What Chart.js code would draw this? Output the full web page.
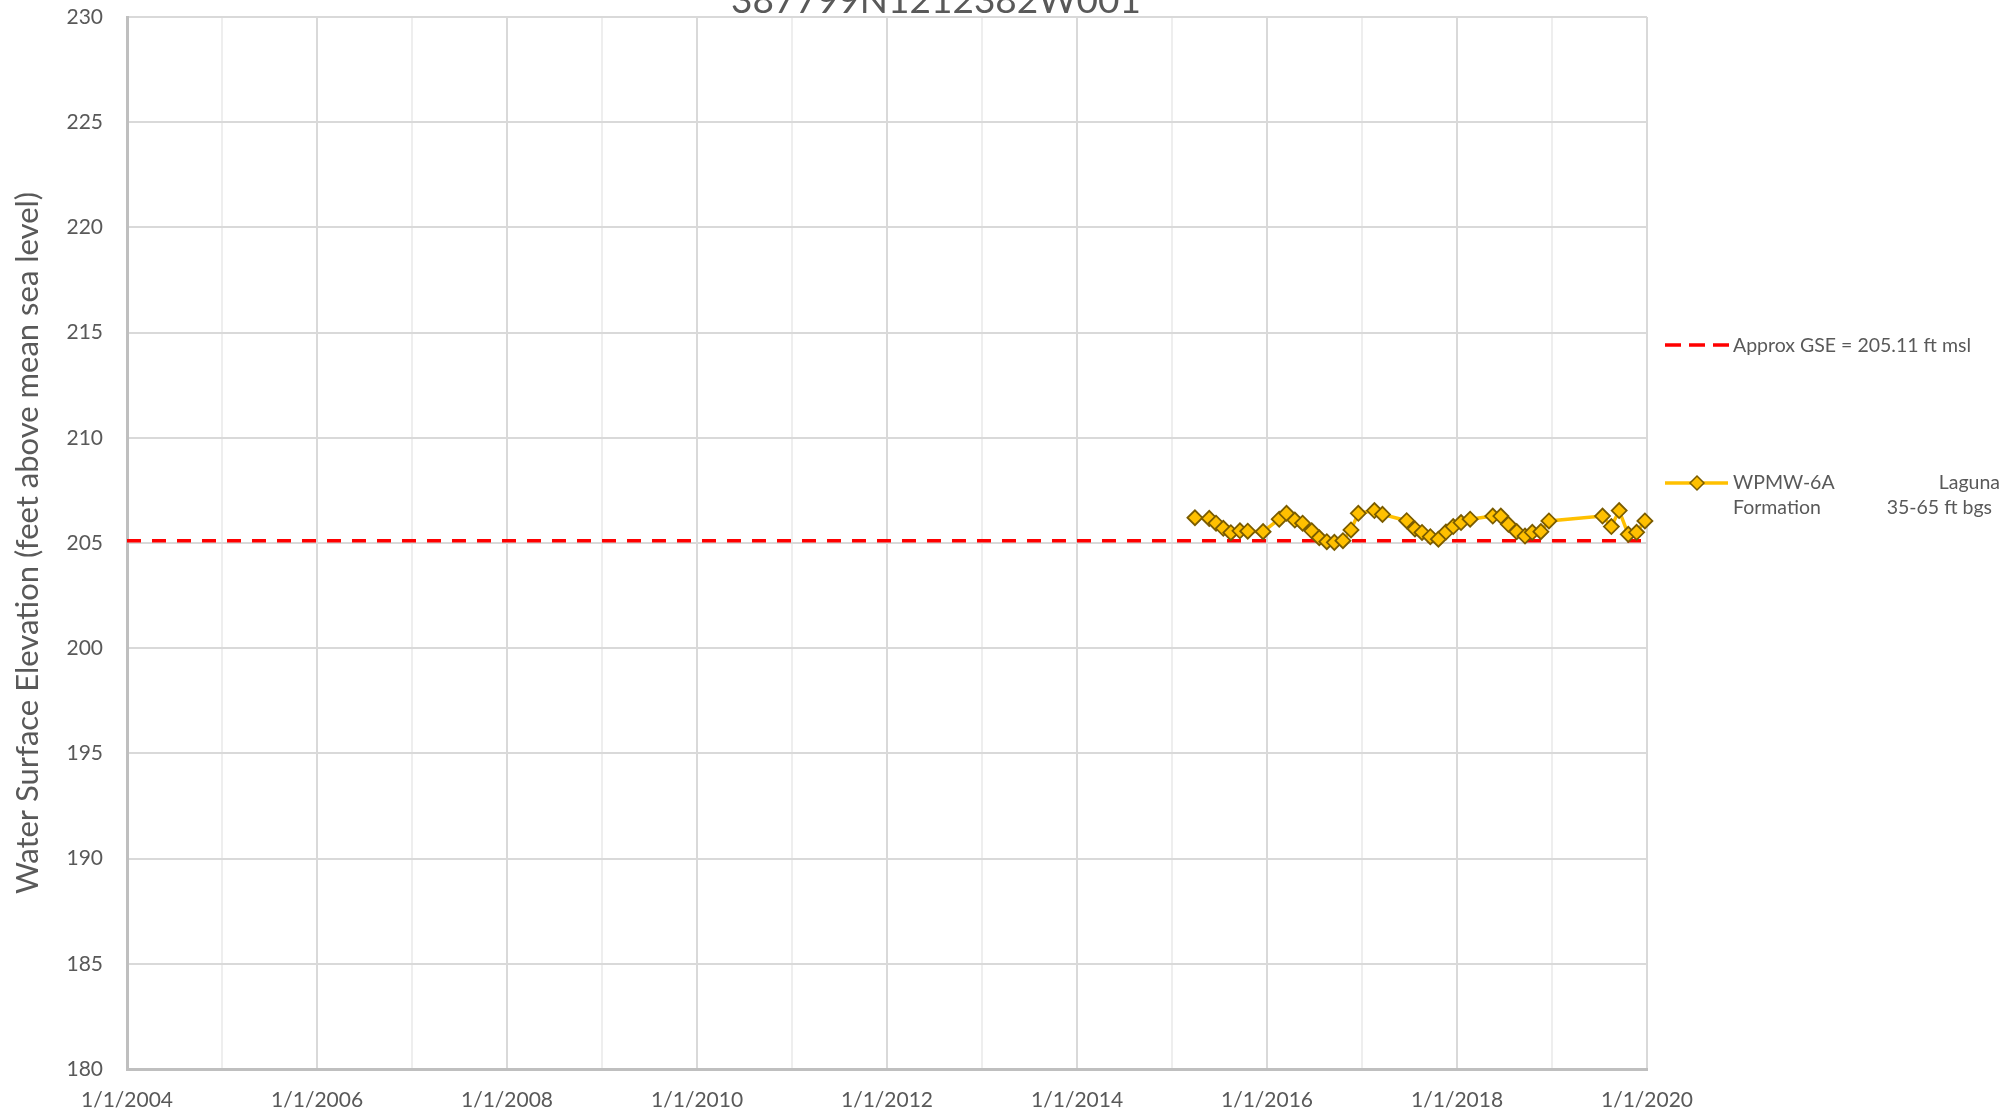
<!DOCTYPE html>
<html>
<head>
<meta charset="utf-8">
<title>387799N1212382W001</title>
<script src="https://cdn.jsdelivr.net/npm/chart.js@4.4.1/dist/chart.umd.min.js"></script>
<style>
  body { margin: 0; background: #ffffff; }
  #wrap { width: 2007px; height: 1118px; }
</style>
</head>
<body>
<div id="wrap"><canvas id="container" width="2007" height="1118"></canvas></div>
<script>
// Chart data
var chartTitle = "387799N1212382W001";
var yAxisTitle = "Water Surface Elevation (feet above mean sea level)";
var sampleDates = [
  "2015-03-30","2015-05-24","2015-06-19","2015-07-17","2015-08-15","2015-09-19","2015-10-19","2015-12-17",
  "2016-02-17","2016-03-16","2016-04-17","2016-05-17","2016-06-21","2016-07-20","2016-08-18","2016-09-16",
  "2016-10-19","2016-11-19","2016-12-17","2017-02-17","2017-03-20","2017-06-21","2017-07-23","2017-08-19",
  "2017-09-20","2017-10-21","2017-11-19","2017-12-17","2018-01-16","2018-02-20","2018-05-18","2018-06-18",
  "2018-07-17","2018-08-18","2018-09-19","2018-10-17","2018-11-19","2018-12-20","2019-07-14","2019-08-17",
  "2019-09-16","2019-10-21","2019-11-22","2019-12-24"
];
var waterLevels = [
  206.20,206.17,205.94,205.70,205.49,205.58,205.56,205.54,
  206.13,206.41,206.09,205.94,205.58,205.25,205.06,205.03,
  205.11,205.62,206.41,206.54,206.36,206.06,205.67,205.50,
  205.30,205.18,205.52,205.78,205.97,206.13,206.28,206.28,
  205.89,205.54,205.33,205.51,205.54,206.05,206.28,205.78,
  206.54,205.41,205.51,206.05
];
var gseDates = ["2004-01-01", "2020-01-01"];
var gseLevels = [205.11, 205.11];
var gseLabel = "Approx GSE = 205.11 ft msl";
var wellLabel = "WPMW-6A Laguna Formation 35-65 ft bgs";
var wellLegendLines = [["WPMW-6A", "Laguna"], ["Formation", "35-65 ft bgs"]];
var tickYears = [2004,2005,2006,2007,2008,2009,2010,2011,2012,2013,2014,2015,2016,2017,2018,2019,2020];
var xTickLabels = ["1/1/2004","1/1/2006","1/1/2008","1/1/2010","1/1/2012","1/1/2014","1/1/2016","1/1/2018","1/1/2020"];
var yMin = 180, yMax = 230, yStep = 5;

// Build points function
function toPoints(dates, values)
{
    var pts = [];
    for(var i=0;i<dates.length;i++)
    {
        pts.push({ x: Date.parse(dates[i]), y: values[i] });
    }
    return pts;
}

function yearOf(v)
{
    return new Date(v).getUTCFullYear();
}

// Title drawn near the top edge (half cut off like the source)
var topTitle = {
    id: 'topTitle',
    afterDraw: function(chart)
    {
        var c = chart.ctx;
        c.save();
        c.font = '37px Lato';
        c.fillStyle = '#595959';
        c.textAlign = 'center';
        c.textBaseline = 'alphabetic';
        c.fillText(chartTitle, 936, 13);
        c.restore();
    }
};

// Legend at the right side
var sideLegend = {
    id: 'sideLegend',
    afterDraw: function(chart)
    {
        var c = chart.ctx;
        var ds0 = chart.data.datasets[0];
        var ds1 = chart.data.datasets[1];
        c.save();
        c.font = '19.5px Lato';
        c.fillStyle = '#595959';
        c.textBaseline = 'middle';

        // gse entry
        c.strokeStyle = ds1.borderColor;
        c.lineWidth = 3.5;
        c.setLineDash([16, 8]);
        c.beginPath();
        c.moveTo(1665, 345);
        c.lineTo(1729, 345);
        c.stroke();
        c.setLineDash([]);
        c.textAlign = 'left';
        c.fillText(ds1.label, 1733, 346);

        // well entry
        c.strokeStyle = ds0.borderColor;
        c.lineWidth = 3.5;
        c.beginPath();
        c.moveTo(1665, 483);
        c.lineTo(1728, 483);
        c.stroke();
        c.fillStyle = ds0.pointBackgroundColor;
        c.strokeStyle = ds0.pointBorderColor;
        c.lineWidth = 1.5;
        c.beginPath();
        c.moveTo(1697, 476);
        c.lineTo(1704, 483);
        c.lineTo(1697, 490);
        c.lineTo(1690, 483);
        c.closePath();
        c.fill();
        c.stroke();

        c.fillStyle = '#595959';
        var rightEdges = [2000, 1992];
        for(var i=0;i<wellLegendLines.length;i++)
        {
            var y = 483 + i*25;
            c.textAlign = 'left';
            c.fillText(wellLegendLines[i][0], 1733, y);
            c.textAlign = 'right';
            c.fillText(wellLegendLines[i][1], rightEdges[i], y);
        }
        c.restore();
    }
};

var container = document.getElementById("container").getContext("2d");
var mychart = new Chart(container, {
    type: 'line',
    data: {
        datasets: [
            {
                label: wellLabel,
                data: toPoints(sampleDates, waterLevels),
                borderColor: '#ffc000',
                borderWidth: 3.5,
                pointStyle: 'rectRot',
                pointRadius: 7.5,
                pointBackgroundColor: '#ffc000',
                pointBorderColor: '#7a5c00',
                pointBorderWidth: 1.8,
                tension: 0,
                clip: false,
                order: 0,
            },
            {
                label: gseLabel,
                data: toPoints(gseDates, gseLevels),
                borderColor: '#ff0000',
                borderWidth: 3.5,
                borderDash: [14, 11],
                pointRadius: 0,
                order: 1,
            }
        ]
    },
    options: {
        responsive: false,
        animation: false,
        devicePixelRatio: 1,
        layout: { padding: { top: 17, right: 360, left: 0, bottom: 0 } },
        plugins: {
            legend: { display: false },
            title: { display: false },
            tooltip: { enabled: false },
        },
        scales: {
            x: {
                type: 'linear',
                min: Date.parse(gseDates[0]),
                max: Date.parse(gseDates[1]),
                afterBuildTicks: function(scale)
                {
                    scale.ticks = tickYears.map(function(y){ return { value: Date.UTC(y,0,1) }; });
                },
                afterFit: function(scale) { scale.height = 49; },
                grid: {
                    drawTicks: false,
                    color: function(ctx) { return yearOf(ctx.tick.value) % 2 === 0 ? '#d9d9d9' : '#eeeeee'; },
                    lineWidth: 2,
                },
                border: { color: '#bfbfbf', width: 3 },
                ticks: {
                    autoSkip: false,
                    maxRotation: 0,
                    padding: 19,
                    color: '#595959',
                    font: { family: 'Lato', size: 21 },
                    callback: function(v)
                    {
                        var y = yearOf(v);
                        var idx = xTickLabels.indexOf("1/1/" + y);
                        return idx >= 0 ? xTickLabels[idx] : '';
                    },
                },
            },
            y: {
                min: yMin,
                max: yMax,
                afterFit: function(scale)
                {
                    scale.width = 127;
                    scale.paddingTop = 0;
                    scale.paddingBottom = 0;
                },
                grid: { drawTicks: false, color: '#d9d9d9', lineWidth: 2 },
                border: { color: '#bfbfbf', width: 3 },
                ticks: {
                    stepSize: yStep,
                    padding: 24,
                    color: '#595959',
                    font: { family: 'Lato', size: 21 },
                },
                title: {
                    display: true,
                    text: yAxisTitle,
                    color: '#595959',
                    font: { family: 'Lato', size: 31 },
                    padding: { top: 9, bottom: 0 },
                },
            },
        },
    },
    plugins: [topTitle, sideLegend],
});
</script>
</body>
</html>
